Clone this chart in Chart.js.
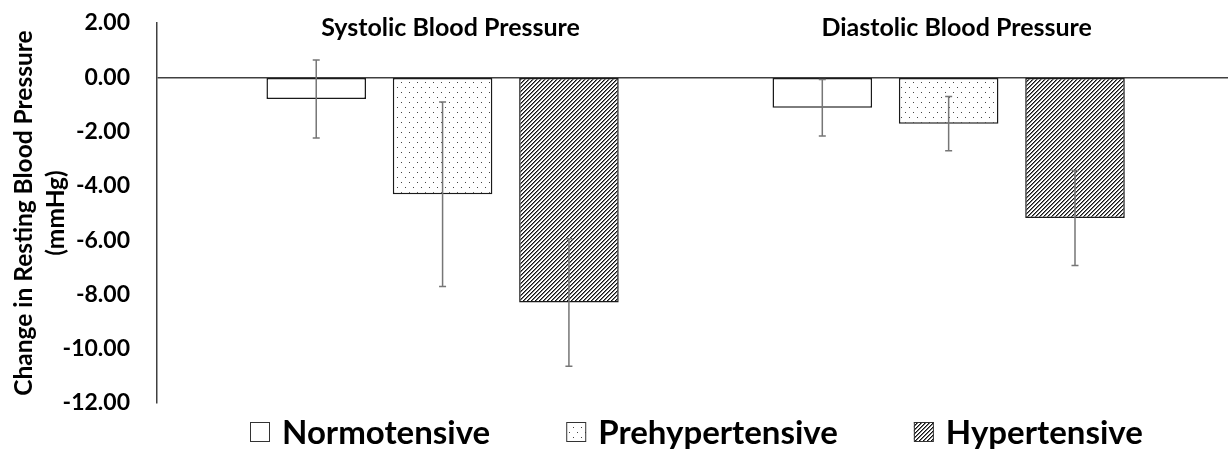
<!DOCTYPE html>
<html>
<head>
<meta charset="utf-8">
<script src="https://cdn.jsdelivr.net/npm/chart.js@4"></script>
<style>
  body { margin: 0; background: #fff; }
</style>
</head>
<body>
<canvas id="bpChart" width="1228" height="449"></canvas>
<script>
// Данные
const groups = ['Systolic Blood Pressure', 'Diastolic Blood Pressure'];
const seriesNames = ['Normotensive', 'Prehypertensive', 'Hypertensive'];
const normoValues = [-0.80, -1.12];
const preValues = [-4.31, -1.71];
const hyperValues = [-8.30, -5.18];
const normoErrors = [1.44, 1.04];
const preErrors = [3.40, 1.00];
const hyperErrors = [2.35, 1.75];
const yTicks = [2, 0, -2, -4, -6, -8, -10, -12];

// Штриховки для столбцов
function dotPattern() {
    const c = document.createElement('canvas');
    c.width = 8; c.height = 10;
    const g = c.getContext('2d');
    g.fillStyle = '#fff';
    g.fillRect(0, 0, 8, 10);
    g.fillStyle = '#444';
    g.fillRect(1, 2, 1, 1);
    g.fillRect(5, 7, 1, 1);
    return g.createPattern(c, 'repeat');
}

function hatchPattern() {
    const c = document.createElement('canvas');
    c.width = 4; c.height = 4;
    const g = c.getContext('2d');
    g.fillStyle = '#fff';
    g.fillRect(0, 0, 4, 4);
    for (let i = 0; i < 4; i++) {
        g.fillStyle = '#111';
        g.fillRect(i, 3 - i, 1, 1);
        g.fillStyle = '#777';
        g.fillRect((i + 1) % 4, 3 - i, 1, 1);
    }
    return g.createPattern(c, 'repeat');
}

const toPoints = vals => vals.map((v, i) => ({ x: i, y: v }));

const errorBars = {
    id: 'errorBars',
    afterDatasetsDraw(chart) {
        const { ctx, scales: { y } } = chart;
        ctx.save();
        ctx.strokeStyle = '#767676';
        ctx.lineWidth = 1.5;
        chart.data.datasets.forEach((ds, i) => {
            chart.getDatasetMeta(i).data.forEach((bar, j) => {
                const v = ds.data[j].y, e = ds.errors[j];
                const top = y.getPixelForValue(v + e);
                const bot = y.getPixelForValue(v - e);
                ctx.beginPath();
                ctx.moveTo(bar.x, top); ctx.lineTo(bar.x, bot);
                ctx.moveTo(bar.x - 3.5, top); ctx.lineTo(bar.x + 3.5, top);
                ctx.moveTo(bar.x - 3.5, bot); ctx.lineTo(bar.x + 3.5, bot);
                ctx.stroke();
            });
        });
        ctx.restore();
    }
};

// Подписи групп сверху и легенда снизу
const labelsAndLegend = {
    id: 'labelsAndLegend',
    afterDraw(chart) {
        const { ctx, scales: { x } } = chart;
        ctx.save();
        ctx.fillStyle = '#000';
        ctx.textBaseline = 'middle';
        ctx.textAlign = 'center';
        ctx.font = 'bold 25px Lato';
        groups.forEach((g, i) => ctx.fillText(g, x.getPixelForValue(i) + 8, 28));

        ctx.font = 'bold 33px Lato';
        ctx.textAlign = 'left';
        let lx = 250;
        const ly = 432;
        chart.data.datasets.forEach(ds => {
            ctx.fillStyle = ds.backgroundColor;
            ctx.fillRect(lx, ly - 10, 20, 20);
            ctx.strokeStyle = '#333';
            ctx.lineWidth = 1;
            ctx.strokeRect(lx + 0.5, ly - 9.5, 19, 19);
            ctx.fillStyle = '#000';
            ctx.fillText(ds.label, lx + 32, ly + 1);
            lx += 32 + ctx.measureText(ds.label).width + 76;
        });
        ctx.restore();
    }
};

const ctx = document.getElementById('bpChart').getContext('2d');
new Chart(ctx, {
    type: 'bar',
    data: {
        datasets: [
            { label: seriesNames[0], data: toPoints(normoValues), errors: normoErrors, backgroundColor: '#fff' },
            { label: seriesNames[1], data: toPoints(preValues), errors: preErrors, backgroundColor: dotPattern() },
            { label: seriesNames[2], data: toPoints(hyperValues), errors: hyperErrors, backgroundColor: hatchPattern() }
        ].map(ds => Object.assign(ds, {
            borderColor: '#1a1a1a',
            borderWidth: 1.5,
            borderSkipped: false,
            categoryPercentage: 0.749,
            barPercentage: 0.788
        }))
    },
    options: {
        responsive: false,
        animation: false,
        layout: { autoPadding: false, padding: { top: 23, bottom: 46, left: 0, right: 0 } },
        plugins: { legend: { display: false }, tooltip: { enabled: false } },
        scales: {
            x: {
                type: 'linear',
                offset: false,
                min: -0.5643,
                max: 1.552,
                afterBuildTicks: s => { s.ticks = [{ value: 0 }, { value: 1 }]; },
                ticks: { display: false },
                grid: { display: false, drawTicks: false },
                border: { display: false }
            },
            y: {
                min: -12,
                max: 2,
                afterBuildTicks: s => { s.ticks = yTicks.map(v => ({ value: v })); },
                afterFit: s => { s.width = 157; s.paddingTop = 0; s.paddingBottom = 0; },
                ticks: {
                    callback: v => v.toFixed(2),
                    color: '#000',
                    padding: 27,
                    font: { family: 'Lato', weight: 'bold', size: 23 }
                },
                grid: {
                    drawTicks: false,
                    lineWidth: 1.5,
                    color: c => c.tick && c.tick.value === 0 ? '#404040' : 'rgba(0,0,0,0)'
                },
                border: { display: true, color: '#404040', width: 1.5 },
                title: {
                    display: true,
                    text: ['Change in Resting Blood Pressure', '(mmHg)'],
                    color: '#000',
                    padding: { top: 8, bottom: 0 },
                    font: { family: 'Lato', weight: 'bold', size: 24.5, lineHeight: 1.3 }
                }
            }
        }
    },
    plugins: [errorBars, labelsAndLegend]
});
</script>
</body>
</html>
